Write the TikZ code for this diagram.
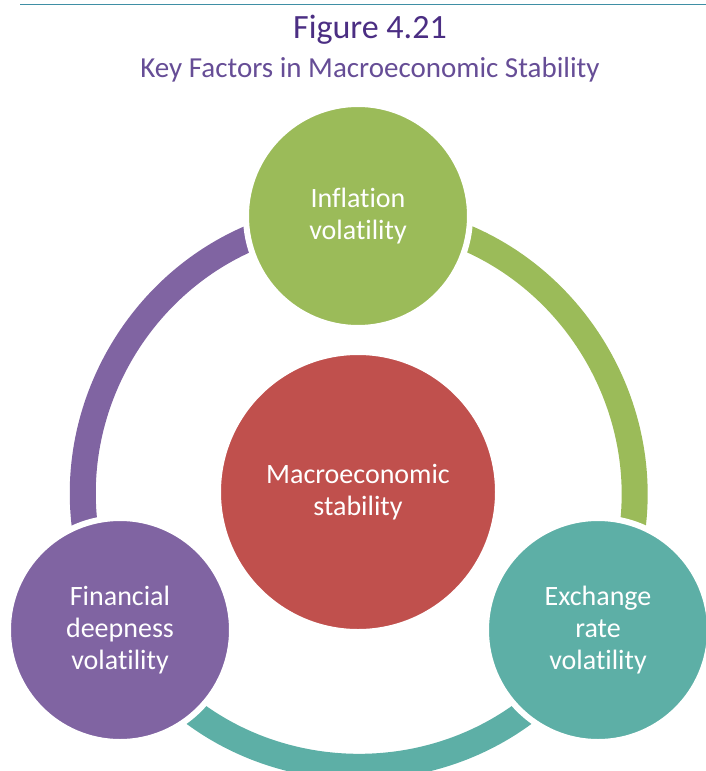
\documentclass[tikz,border=0pt]{standalone}
\usepackage{fontspec}
\setmainfont{Carlito}[Ligatures=CommonOff]
\usetikzlibrary{positioning, backgrounds}
\definecolor{myGreen}{HTML}{9BBB59}
\definecolor{myRed}{HTML}{C0504D}
\definecolor{myPurple}{HTML}{8064A2}
\definecolor{myTeal}{HTML}{5DAFA6}
\definecolor{myTitle}{HTML}{4B2E83}
\definecolor{myRule}{HTML}{3F8FA5}

\begin{document}
\begin{tikzpicture}[
x=1pt, y=1pt,
factor/.style={circle, fill=#1, draw=white, line width=6pt, minimum size=224pt, inner sep=0pt, align=center, text=white, font=\fontsize{28}{32}\selectfont},
ring/.style={line width=26pt, #1, bend left=60, looseness=1.13}
]
\useasboundingbox (0,0) rectangle (706,-771);

\draw[myRule, line width=1.5pt] (20,-4.5) -- (706,-4.5);
\node[text=myTitle, font=\fontsize{34}{38}\selectfont] (title) at (370,-30) {Figure 4.21};
\node[text=myTitle!85, font=\fontsize{29}{32}\selectfont] (subtitle) at (370,-70) {Key Factors in Macroeconomic Stability};

\node[factor=myGreen] (inflation) at (358,-216) {Inflation\\volatility};
\node[factor=myPurple] (financial) at (120,-630) {Financial\\deepness\\volatility};
\node[factor=myTeal] (exchange) at (598,-630) {Exchange\\rate\\volatility};
\node[factor=myRed, minimum size=280pt] (stability) at (358,-492) {Macroeconomic\\stability};

\begin{scope}[on background layer]
\draw[ring=myPurple] (financial.center) to (inflation.center);
\draw[ring=myGreen] (inflation.center) to (exchange.center);
\draw[ring=myTeal] (exchange.center) to (financial.center);
\end{scope}
\end{tikzpicture}
\end{document}
